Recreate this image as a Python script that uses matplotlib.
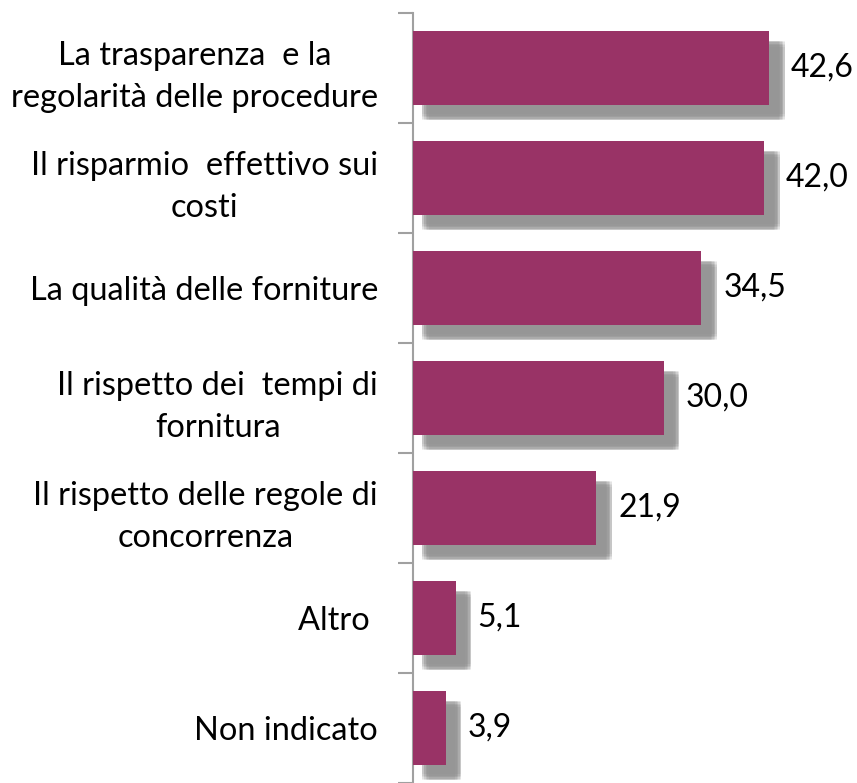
import numpy as np
import matplotlib
matplotlib.use("Agg")
import matplotlib.pyplot as plt
import matplotlib.patheffects as pe

plt.rcParams['font.family'] = ['Lato', 'DejaVu Sans']

categories = [
    "La trasparenza  e la\nregolarità delle procedure",
    "Il risparmio  effettivo sui\ncosti",
    "La qualità delle forniture",
    "Il rispetto dei  tempi di\nfornitura",
    "Il rispetto delle regole di\nconcorrenza",
    "Altro ",
    "Non indicato",
]
values = [42.6, 42.0, 34.5, 30.0, 21.9, 5.1, 3.9]
value_labels = ["42,6", "42,0", "34,5", "30,0", "21,9", "5,1", "3,9"]

W, H = 857, 783
fig = plt.figure(figsize=(W / 100, H / 100), dpi=100)
# axes placed so the spine sits at x=413 px and the top tick at y=13 px
x0, xmax = 413, 50
px_per_unit = 8.36
ax = fig.add_axes([x0 / W, 0, xmax * px_per_unit / W, (H - 13) / H])

ypos = np.arange(len(categories))
bar_color = '#993366'

# soft drop shadow: many faint copies spread around the main offset
shadow = []
for dx in np.linspace(-2.2, 2.2, 5):
    for dy in np.linspace(-2.2, 2.2, 5):
        shadow.append(pe.SimplePatchShadow(offset=(9 + dx, -9 + dy),
                                           shadow_rgbFace='#969696', alpha=0.14))
shadow.append(pe.Normal())

bars = ax.barh(ypos, values, height=0.67, color=bar_color, edgecolor='none', zorder=3)
for b in bars:
    b.set_path_effects(shadow)

for y, v, lab in zip(ypos, values, value_labels):
    ax.text(v + 22 / px_per_unit, y, lab, va='center', ha='left', fontsize=23, color='black')

ax.set_ylim(len(categories) - 0.5, -0.5)
ax.set_xlim(0, xmax)

ax.set_yticks(ypos)
ax.set_yticklabels(categories, fontsize=23.4, ha='center', linespacing=1.5)
ax.tick_params(axis='y', length=0, pad=0)
# center the multi-line labels inside a right-justified block
for lbl in ax.get_yticklabels():
    lbl.set_multialignment('center')
    lbl.set_horizontalalignment('right')
    lbl.set_x(-35 / (xmax * px_per_unit))

# tick marks at category boundaries
ax.set_yticks(np.arange(-0.5, len(categories), 1.0), minor=True)
ax.tick_params(axis='y', which='minor', length=11, width=1.5, color='#a0a0a0', direction='out')

ax.set_xticks([])
for s in ['top', 'right', 'bottom']:
    ax.spines[s].set_visible(False)
ax.spines['left'].set_color('#a0a0a0')
ax.spines['left'].set_linewidth(1.5)

fig.savefig('out.png', dpi=100)
